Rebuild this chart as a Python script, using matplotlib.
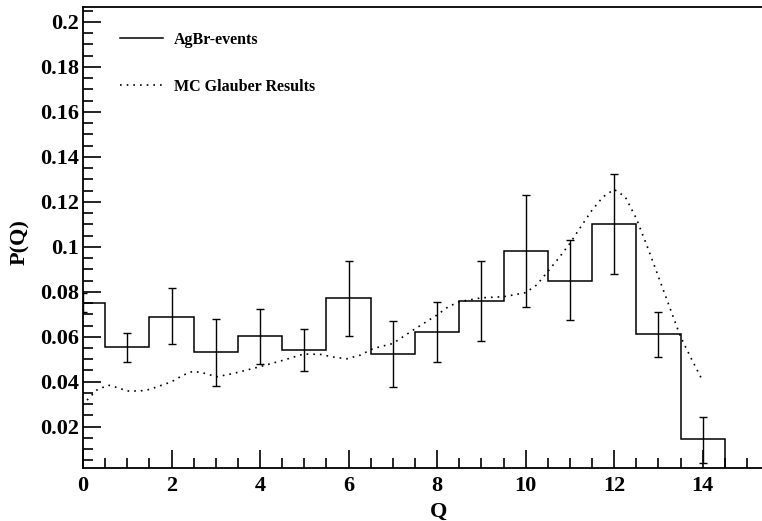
import numpy as np
import matplotlib.pyplot as plt
from matplotlib.ticker import MultipleLocator, FuncFormatter

# AgBr events histogram (bins centred on integer Q)
q = np.arange(0, 15)
p_q = [0.075, 0.0553, 0.069, 0.0533, 0.0602, 0.0541, 0.0771, 0.0523,
       0.0621, 0.076, 0.098, 0.085, 0.110, 0.0613, 0.0144]
err_hi = [0.0793, 0.0615, 0.0816, 0.068, 0.0724, 0.0636, 0.0938, 0.0668,
          0.0756, 0.0938, 0.1231, 0.1028, 0.1324, 0.071, 0.0242]
err_lo = [0.0711, 0.0487, 0.0568, 0.0382, 0.0477, 0.0448, 0.0603, 0.0375,
          0.0486, 0.0582, 0.0731, 0.0673, 0.0877, 0.0511, 0.0040]
edges = np.arange(-0.5, 15.0, 1.0)

# MC Glauber curve
mc_q = [0.0, 0.05, 0.31, 0.57, 0.76, 1.0, 1.29, 1.51, 2.0, 2.27, 2.49, 2.76,
        3.02, 3.4, 4.0, 4.53, 4.98, 5.35, 5.65, 5.96, 6.26, 6.56, 7.0, 7.5,
        8.0, 8.25, 8.5, 9.0, 9.5, 10.0, 10.25, 10.5, 10.75, 11.0, 11.25,
        11.5, 11.75, 12.0, 12.25, 12.5, 12.75, 13.0, 13.25, 13.5, 13.75, 14.0]
mc_p = [0.0295, 0.031, 0.0363, 0.0385, 0.0375, 0.0359, 0.0359, 0.0366, 0.040,
        0.043, 0.0447, 0.0437, 0.0422, 0.0437, 0.0467, 0.0496, 0.0523, 0.0522,
        0.051, 0.0502, 0.0518, 0.0548, 0.057, 0.0635, 0.0697, 0.0733, 0.0756,
        0.0773, 0.0778, 0.0796, 0.083, 0.089, 0.095, 0.1015, 0.109, 0.1163,
        0.1222, 0.1255, 0.1222, 0.1126, 0.100, 0.0867, 0.0733, 0.060, 0.050,
        0.0404]

plt.rcParams['font.family'] = ['Liberation Serif', 'DejaVu Serif']
plt.rcParams['font.weight'] = 'bold'

fig = plt.figure(figsize=(7.62, 5.21), dpi=100)
ax = fig.add_axes([83/762, 53/521, 679/762, 461.5/521])

ax.stairs(p_q, edges, baseline=0, color='black', lw=1.1, label='AgBr-events')
yerr = [np.array(p_q) - np.array(err_lo), np.array(err_hi) - np.array(p_q)]
ax.errorbar(q, p_q, yerr=yerr, fmt='none', ecolor='black', elinewidth=1.0,
            capsize=3, capthick=1.0)
ax.plot(mc_q, mc_p, color='black', lw=1.2, ls=(0, (1, 3)),
        label='MC Glauber Results')

ax.set_xlim(0, 15.34)
ax.set_ylim(0.00166, 0.2068)

ax.xaxis.set_major_locator(MultipleLocator(2))
ax.xaxis.set_minor_locator(MultipleLocator(0.5))
ax.yaxis.set_major_locator(MultipleLocator(0.02))
ax.yaxis.set_minor_locator(MultipleLocator(0.005))
ax.yaxis.set_major_formatter(FuncFormatter(lambda v, p: f"{v:g}"))
ax.tick_params(which='both', direction='in', width=1.2, labelsize=16)
ax.tick_params(which='major', length=13)
ax.tick_params(which='minor', length=7)
ax.tick_params(axis='x', pad=6)
ax.tick_params(axis='y', pad=3)
for lab in ax.get_xticklabels() + ax.get_yticklabels():
    lab.set_fontweight('bold')

ax.spines['right'].set_visible(False)
for s in ['left', 'bottom', 'top']:
    ax.spines[s].set_linewidth(1.3)

ax.set_xlabel('Q', fontsize=16, fontweight='bold', va='center')
ax.xaxis.set_label_coords(0.523, -0.095)
ax.set_ylabel('P(Q)', fontsize=16, fontweight='bold', va='center')
ax.yaxis.set_label_coords(-0.093, 0.49)

ax.legend(loc='upper left', bbox_to_anchor=(0.0545, 0.945), frameon=False,
          borderpad=0, borderaxespad=0, handlelength=2.7, handletextpad=0.7,
          labelspacing=1.95, prop={'family': 'Liberation Serif',
                                   'weight': 'bold', 'size': 11.5})

fig.savefig('out.png', dpi=100)
